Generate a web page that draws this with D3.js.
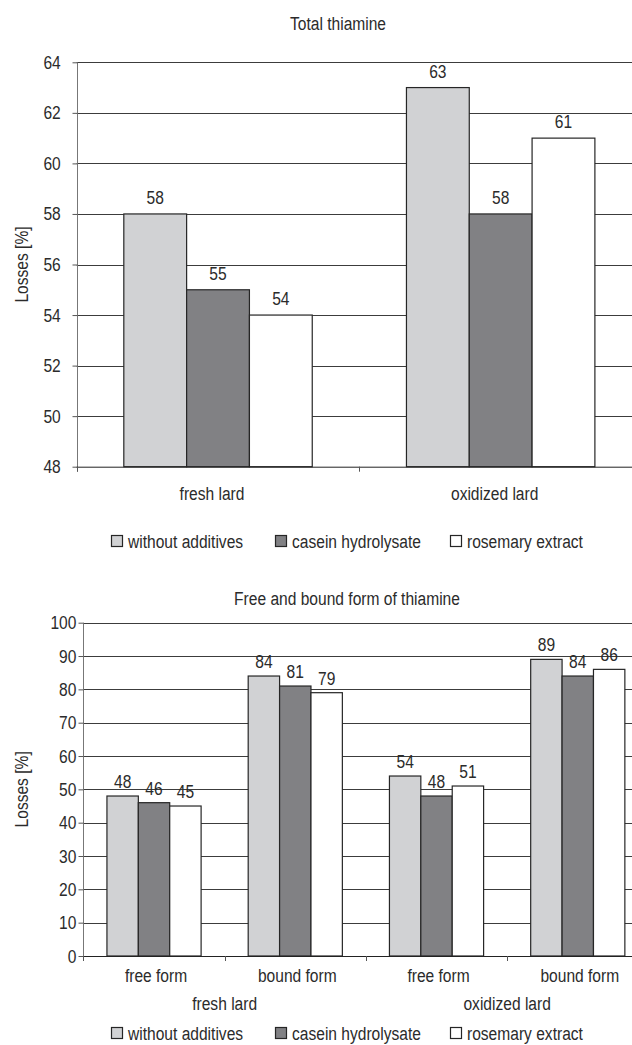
<!DOCTYPE html>
<html>
<head>
<meta charset="utf-8">
<script src="https://cdn.jsdelivr.net/npm/d3@7/dist/d3.min.js"></script>
<style>
  html, body { margin: 0; padding: 0; background: #fff; }
  svg { display: block; }
  text { font-family: "Liberation Sans", Arial, sans-serif; fill: #2b2b2b; }
</style>
</head>
<body>
<script>
// ---------- data ----------
const series = ["without additives", "casein hydrolysate", "rosemary extract"];
const seriesColors = ["#d1d2d4", "#818184", "#ffffff"];

// Chart 1: Total thiamine
const title1 = "Total thiamine";
const categories1 = ["fresh lard", "oxidized lard"];
const total_without = [58, 63];
const total_casein = [55, 58];
const total_rosemary = [54, 61];
const yTicks1 = [48, 50, 52, 54, 56, 58, 60, 62, 64];

// Chart 2: Free and bound form of thiamine
const title2 = "Free and bound form of thiamine";
const forms2 = ["free form", "bound form", "free form", "bound form"];
const groups2 = ["fresh lard", "oxidized lard"];
const form_without = [48, 84, 54, 89];
const form_casein = [46, 81, 48, 84];
const form_rosemary = [45, 79, 51, 86];
const yTicks2 = [0, 10, 20, 30, 40, 50, 60, 70, 80, 90, 100];

const yLabel = "Losses [%]";

// ---------- drawing ----------
const W = 632, H = 1045, FS = 19, SX = 0.82; // condensed look
const svg = d3.select("body").append("svg").attr("width", W).attr("height", H);
svg.append("rect").attr("width", W).attr("height", H).attr("fill", "#fff");

function txt(parent, x, y, str, anchor, rot) {
  return parent.append("text")
    .attr("transform", `translate(${x},${y})${rot ? " rotate(" + rot + ")" : ""} scale(${SX},1)`)
    .attr("text-anchor", anchor || "middle")
    .attr("font-size", FS)
    .text(str);
}

function drawChart(cfg) {
  const g = svg.append("g");
  const n = cfg.cats.length;
  const x0 = d3.scaleBand().domain(d3.range(n)).range([cfg.left, cfg.right]).padding(0);
  const bw = x0.bandwidth();
  const gap = bw / 6; // Excel gap width 150%
  const x1 = d3.scaleBand().domain(series).range([gap, bw - gap]).padding(0);
  const y = d3.scaleLinear().domain(cfg.yDomain).range([cfg.bottom, cfg.top]);

  // gridlines
  g.append("g").selectAll("line").data(cfg.yTicks.filter(t => t !== cfg.yDomain[0])).join("line")
    .attr("x1", cfg.left).attr("x2", cfg.right)
    .attr("y1", d => Math.round(y(d)) + 0.5).attr("y2", d => Math.round(y(d)) + 0.5)
    .attr("stroke", "#3c3c3c").attr("stroke-width", 1);

  // y axis (line + ticks from the axis generator, labels drawn condensed)
  const yAxis = d3.axisLeft(y).tickValues(cfg.yTicks).tickSize(5).tickFormat("");
  const ya = g.append("g").attr("transform", `translate(${Math.round(cfg.left) + 0.5},0)`).call(yAxis);
  ya.select(".domain").attr("stroke", "#777").attr("d", `M0,${cfg.top}V${cfg.bottom + 5}`);
  ya.selectAll(".tick line").attr("stroke", "#555");
  const yl = g.append("g");
  cfg.yTicks.forEach(t => txt(yl, cfg.left - cfg.tickPad, y(t) + 6.5, d3.format("d")(t), "end"));

  // bars
  const vals = cfg.values;
  series.forEach((s, si) => {
    g.append("g").selectAll("rect").data(vals[si]).join("rect")
      .attr("x", (d, i) => x0(i) + x1(s))
      .attr("y", d => y(d))
      .attr("width", x1.bandwidth())
      .attr("height", d => y(cfg.yDomain[0]) - y(d))
      .attr("fill", seriesColors[si])
      .attr("stroke", "#262626").attr("stroke-width", 1.2);
    const lg = g.append("g");
    vals[si].forEach((d, i) => txt(lg, x0(i) + x1(s) + x1.bandwidth() / 2, y(d) - cfg.labelGap, d));
  });

  // x axis line and ticks
  const xa = d3.axisBottom(x0).tickSize(0).tickFormat("");
  g.append("g").attr("transform", `translate(0,${cfg.bottom})`).call(xa)
    .select(".domain").attr("stroke", "#222").attr("d", `M${cfg.left},0.5H${cfg.right}`);
  const boundaries = d3.range(n + 1).map(i => i < n ? x0(i) : cfg.right);
  g.append("g").selectAll("line").data(boundaries).join("line")
    .attr("x1", d => Math.round(d) + 0.5).attr("x2", d => Math.round(d) + 0.5)
    .attr("y1", cfg.bottom).attr("y2", cfg.bottom + 5)
    .attr("stroke", "#555");

  // category labels
  const cl = g.append("g");
  cfg.cats.forEach((c, i) => txt(cl, x0(i) + bw / 2 + cfg.catShift, cfg.catY, c));

  if (cfg.groups) {
    const per = n / cfg.groups.length;
    cfg.groups.forEach((c, i) => txt(cl, x0(i * per) + bw * per / 2, cfg.groupY, c));
  }

  // title
  txt(g, cfg.titleX, cfg.titleY, cfg.title);

  // y label
  txt(g, 28, (cfg.top + cfg.bottom) / 2, yLabel, "middle", -90);

  // legend
  const legX = [111.5, 275.5, 450.5];
  const lg = g.append("g");
  series.forEach((s, si) => {
    lg.append("rect").attr("x", legX[si]).attr("y", cfg.legendY - 12.5)
      .attr("width", 11).attr("height", 11)
      .attr("fill", seriesColors[si]).attr("stroke", "#262626").attr("stroke-width", 1.2);
    txt(lg, legX[si] + 16.5, cfg.legendY, s, "start");
  });
}

drawChart({
  title: title1, titleX: 338, titleY: 30,
  cats: categories1,
  values: [total_without, total_casein, total_rosemary],
  left: 76.7, right: 642, top: 62.3, bottom: 466.7,
  yDomain: [48, 64], yTicks: yTicks1, tickPad: 16,
  labelGap: 10, catShift: -6,
  catY: 500, legendY: 548
});

drawChart({
  title: title2, titleX: 347, titleY: 605,
  cats: forms2, groups: groups2,
  values: [form_without, form_casein, form_rosemary],
  left: 83.4, right: 648.4, top: 622.7, bottom: 956,
  yDomain: [0, 100], yTicks: yTicks2, tickPad: 7,
  labelGap: 8, catShift: 2,
  catY: 982, groupY: 1010, legendY: 1040
});
</script>
</body>
</html>
